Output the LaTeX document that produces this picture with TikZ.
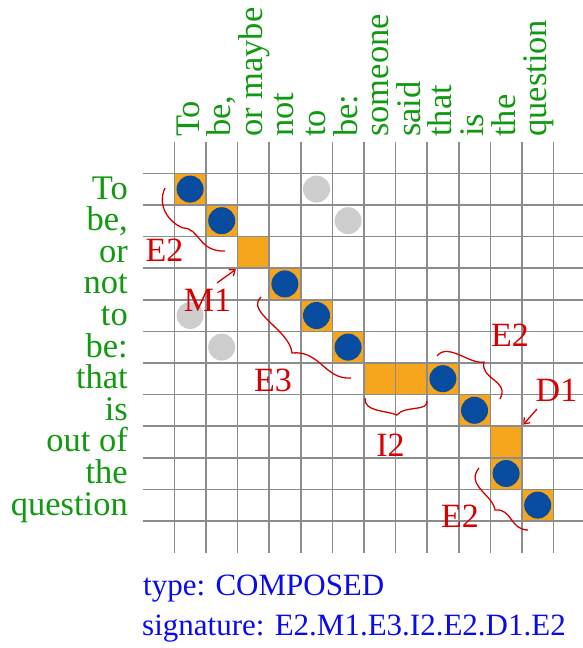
\documentclass[tikz,border=0pt]{standalone}
\usepackage{fontspec}
\setmainfont{Liberation Serif}
\usetikzlibrary{arrows.meta}
\definecolor{lblgreen}{RGB}{17,153,17}
\definecolor{annred}{RGB}{214,0,0}
\definecolor{infoblue}{RGB}{10,10,240}
\definecolor{cellorange}{RGB}{246,166,29}
\definecolor{dotblue}{RGB}{8,76,160}
\definecolor{dotgray}{RGB}{205,205,205}
\definecolor{gridgray}{RGB}{140,140,140}
\begin{document}
\begin{tikzpicture}[x=1pt,y=-1pt,
  gridline/.style={draw=gridgray,line width=1.6pt},
  cellfill/.style={fill=cellorange,draw=none,minimum size=31.6pt,inner sep=0pt,outer sep=0pt},
  bluedot/.style={circle,fill=dotblue,minimum size=27pt,inner sep=0pt},
  graydot/.style={circle,fill=dotgray,minimum size=27pt,inner sep=0pt},
  rowlbl/.style={text=lblgreen,font=\fontsize{34.5}{34.5}\selectfont,inner sep=0pt,anchor=base east},
  collbl/.style={text=lblgreen,font=\fontsize{34.5}{34.5}\selectfont,inner sep=0pt,anchor=base west,rotate=90},
  annlbl/.style={text=annred,font=\fontsize{34}{34}\selectfont,inner sep=0pt},
  bracecurve/.style={draw=annred,line width=1.3pt},
  pointer/.style={draw=annred,line width=1.3pt,shorten >=2pt,-{Straight Barb[length=5pt,width=8pt]}},
  infotxt/.style={text=infoblue,font=\fontsize{31}{31}\selectfont,inner sep=0pt,anchor=base west}
]
\useasboundingbox (0,0) rectangle (582,648);

% orange cells
\foreach \r/\k in {0/0,1/1,2/2,3/3,4/4,5/5,6/6,6/7,6/8,7/9,8/10,9/10,10/11}
  \node[cellfill] (o\r-\k) at ({174.3+(\k+0.5)*31.6},{173.3+(\r+0.5)*31.6}) {};

% grid
\foreach \k in {0,...,12}
  \draw[gridline] ({174.3+\k*31.6},141.7) -- ({174.3+\k*31.6},552.5);
\foreach \j in {0,...,11}
  \draw[gridline] (142.7,{173.3+\j*31.6}) -- (585,{173.3+\j*31.6});

% dots
\foreach \r/\k in {0/0,1/1,3/3,4/4,5/5,6/8,7/9,9/10,10/11}
  \node[bluedot] (b\r-\k) at ({174.3+(\k+0.5)*31.6},{173.3+(\r+0.5)*31.6}) {};
\foreach \r/\k in {0/4,1/5,4/0,5/1}
  \node[graydot] (g\r-\k) at ({174.3+(\k+0.5)*31.6},{173.3+(\r+0.5)*31.6}) {};

% row labels
\foreach \t [count=\i from 0] in {To,{be,},or,not,to,be:,that,is,out of,the,question}
  \node[rowlbl] (row\i) at (128,{173.3+(\i+0.5)*31.6+10}) {\t};

% column labels
\foreach \t [count=\i from 0] in {To,{be,},or maybe,not,to,be:,someone,said,that,is,the,question}
  \node[collbl] (col\i) at ({174.3+(\i+0.5)*31.6+9},137) {\t};

% annotation labels
\node[annlbl] (lblE2a) at (164.5,250.5) {E2};
\node[annlbl] (lblM1) at (207.5,300) {M1};
\node[annlbl] (lblE3) at (273,380) {E3};
\node[annlbl] (lblI2) at (390.5,445.5) {I2};
\node[annlbl] (lblE2b) at (510,335) {E2};
\node[annlbl] (lblD1) at (556.5,390) {D1};
\node[annlbl] (lblE2c) at (460,516.5) {E2};

% braces
\coordinate (br1s) at (165,188); \coordinate (br1m) at (183,228); \coordinate (br1e) at (225,251);
\draw[bracecurve] (br1s) .. controls (157,205) and (168,222) .. (br1m)
  .. controls (200,228) and (198,252) .. (br1e);
\coordinate (br2s) at (261,297); \coordinate (br2m) at (292,353); \coordinate (br2e) at (351,378);
\draw[bracecurve] (br2s) .. controls (245,312) and (290,330) .. (br2m)
  .. controls (320,350) and (325,380) .. (br2e);
\coordinate (br3s) at (365,398); \coordinate (br3m) at (397,415); \coordinate (br3e) at (427,401);
\draw[bracecurve] (br3s) .. controls (364,412) and (385,410) .. (br3m)
  .. controls (405,405) and (428,412) .. (br3e);
\coordinate (br4s) at (437,356); \coordinate (br4m) at (484,362); \coordinate (br4e) at (500,399);
\draw[bracecurve] (br4s) .. controls (448,342) and (470,365) .. (br4m)
  .. controls (480,380) and (510,380) .. (br4e);
\coordinate (br5s) at (479,468); \coordinate (br5m) at (495,510); \coordinate (br5e) at (528,530);
\draw[bracecurve] (br5s) .. controls (465,485) and (493,495) .. (br5m)
  .. controls (512,508) and (510,530) .. (br5e);

% pointers
\coordinate (m1tail) at (217,283);
\draw[pointer] (m1tail) -- (o2-2.south west);
\coordinate (d1tail) at (537,409);
\draw[pointer] (d1tail) -- (o8-10.north east);

% info text
\node[infotxt] (typeinfo) at (143,595) {type: COMPOSED};
\node[infotxt] (siginfo) at (142,635) {signature: E2.M1.E3.I2.E2.D1.E2};
\end{tikzpicture}
\end{document}
